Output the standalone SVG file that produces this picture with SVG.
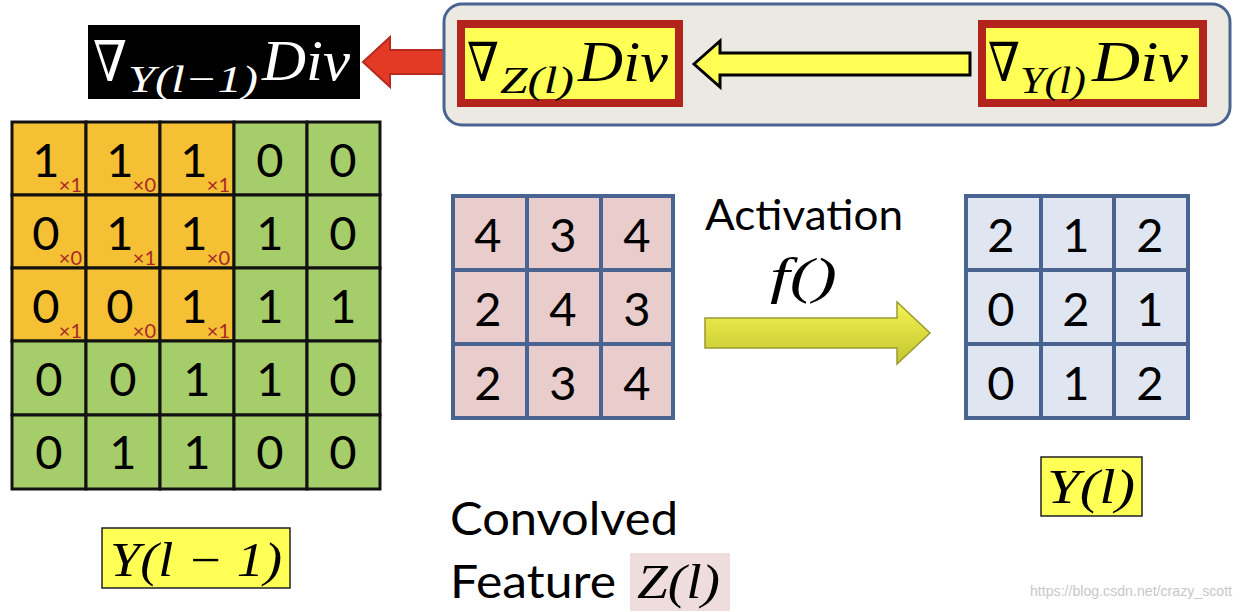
<svg xmlns="http://www.w3.org/2000/svg" width="1244" height="612" viewBox="0 0 1244 612">
<defs>
<linearGradient id="ag" x1="0" y1="0" x2="0" y2="1">
<stop offset="0" stop-color="#f4f455"/>
<stop offset="1" stop-color="#c4c42e"/>
</linearGradient>
<style>
.num{font-family:Lato,"Open Sans",sans-serif;font-size:47px;fill:#000;text-anchor:middle}
.sub{font-family:Lato,"Open Sans",sans-serif;font-size:20px;fill:#a8282a;text-anchor:end}
.math{font-family:"Liberation Serif","DejaVu Serif",serif;font-style:italic}
.nabla{font-family:"DejaVu Serif",serif;font-style:italic;font-weight:normal}
.lbl{font-family:Lato,"Open Sans",sans-serif;fill:#000}
.o{fill:#f5c033;stroke:#111;stroke-width:3}
.g{fill:#a5cd6a;stroke:#111;stroke-width:3}
.p{fill:#e9cdcd;stroke:#4a6491;stroke-width:4}
.b{fill:#dfe6f1;stroke:#4a6491;stroke-width:4}
.redbox{fill:#ffff55;stroke:#b3251c;stroke-width:8}
</style>
</defs>
<rect width="1244" height="612" fill="#fff"/>

<g id="connectors">
<polygon id="red-arrow" points="363,62 390,37 390,50 448,50 448,74 390,74 390,87" fill="#e33a26" stroke="#b52a1d" stroke-width="2"/>
<polygon id="act-arrow" points="705,318 897,318 897,302 930,333 897,364 897,348 705,348" fill="url(#ag)" stroke="#9a9a30" stroke-width="1.5"/>
</g>

<g id="panel">
<rect x="444" y="4" width="786" height="121" rx="18" fill="#ece9e3" stroke="#4a6491" stroke-width="3"/>
</g>
<g id="panel-arrow">
<polygon points="694,64 720,41 720,53 970,53 970,75 720,75 720,87" fill="#ffff55" stroke="#000" stroke-width="3"/>
</g>

<g id="grad-yl1">
<rect x="88" y="25" width="272" height="74" fill="#000"/>
<text class="nabla" x="93" y="81" font-size="56" fill="#fff" textLength="34" lengthAdjust="spacingAndGlyphs">∇</text>
<text class="math" fill="#fff"><tspan x="128" y="92" font-size="38" textLength="130" lengthAdjust="spacingAndGlyphs">Y(l−1)</tspan><tspan x="262" y="80" font-size="58" textLength="88" lengthAdjust="spacingAndGlyphs">Div</tspan></text>
</g>

<g id="grad-zl">
<rect class="redbox" x="461" y="24" width="218" height="79"/>
<text class="nabla" x="467" y="81" font-size="54" fill="#000" textLength="32" lengthAdjust="spacingAndGlyphs">∇</text>
<text class="math" fill="#000"><tspan x="500" y="93" font-size="38" textLength="74" lengthAdjust="spacingAndGlyphs">Z(l)</tspan><tspan x="578" y="81" font-size="58" textLength="90" lengthAdjust="spacingAndGlyphs">Div</tspan></text>
</g>

<g id="grad-yl">
<rect class="redbox" x="982" y="24" width="221" height="79"/>
<text class="nabla" x="988" y="81" font-size="54" fill="#000" textLength="32" lengthAdjust="spacingAndGlyphs">∇</text>
<text class="math" fill="#000"><tspan x="1020" y="93" font-size="38" textLength="66" lengthAdjust="spacingAndGlyphs">Y(l)</tspan><tspan x="1092" y="81" font-size="58" textLength="96" lengthAdjust="spacingAndGlyphs">Div</tspan></text>
</g>

<g id="input-grid">
<rect class="o" x="12" y="122" width="74" height="73"/>
<rect class="o" x="86" y="122" width="74" height="73"/>
<rect class="o" x="160" y="122" width="74" height="73"/>
<rect class="g" x="234" y="122" width="73" height="73"/>
<rect class="g" x="307" y="122" width="73" height="73"/>
<rect class="o" x="12" y="195" width="74" height="73"/>
<rect class="o" x="86" y="195" width="74" height="73"/>
<rect class="o" x="160" y="195" width="74" height="73"/>
<rect class="g" x="234" y="195" width="73" height="73"/>
<rect class="g" x="307" y="195" width="73" height="73"/>
<rect class="o" x="12" y="268" width="74" height="73"/>
<rect class="o" x="86" y="268" width="74" height="73"/>
<rect class="o" x="160" y="268" width="74" height="73"/>
<rect class="g" x="234" y="268" width="73" height="73"/>
<rect class="g" x="307" y="268" width="73" height="73"/>
<rect class="g" x="12" y="341" width="74" height="74"/>
<rect class="g" x="86" y="341" width="74" height="74"/>
<rect class="g" x="160" y="341" width="74" height="74"/>
<rect class="g" x="234" y="341" width="73" height="74"/>
<rect class="g" x="307" y="341" width="73" height="74"/>
<rect class="g" x="12" y="415" width="74" height="74"/>
<rect class="g" x="86" y="415" width="74" height="74"/>
<rect class="g" x="160" y="415" width="74" height="74"/>
<rect class="g" x="234" y="415" width="73" height="74"/>
<rect class="g" x="307" y="415" width="73" height="74"/>
<text class="num" x="46" y="177">1</text><text class="sub" x="82" y="192">×1</text>
<text class="num" x="120" y="177">1</text><text class="sub" x="156" y="192">×0</text>
<text class="num" x="194" y="177">1</text><text class="sub" x="230" y="192">×1</text>
<text class="num" x="270" y="177">0</text>
<text class="num" x="343" y="177">0</text>
<text class="num" x="46" y="250">0</text><text class="sub" x="82" y="265">×0</text>
<text class="num" x="120" y="250">1</text><text class="sub" x="156" y="265">×1</text>
<text class="num" x="194" y="250">1</text><text class="sub" x="230" y="265">×0</text>
<text class="num" x="270" y="250">1</text>
<text class="num" x="343" y="250">0</text>
<text class="num" x="46" y="323">0</text><text class="sub" x="82" y="338">×1</text>
<text class="num" x="120" y="323">0</text><text class="sub" x="156" y="338">×0</text>
<text class="num" x="194" y="323">1</text><text class="sub" x="230" y="338">×1</text>
<text class="num" x="270" y="323">1</text>
<text class="num" x="343" y="323">1</text>
<text class="num" x="49" y="396">0</text>
<text class="num" x="123" y="396">0</text>
<text class="num" x="197" y="396">1</text>
<text class="num" x="270" y="396">1</text>
<text class="num" x="343" y="396">0</text>
<text class="num" x="49" y="469">0</text>
<text class="num" x="123" y="469">1</text>
<text class="num" x="197" y="469">1</text>
<text class="num" x="270" y="469">0</text>
<text class="num" x="343" y="469">0</text>
</g>

<g id="label-yl1">
<rect x="102" y="528" width="188" height="60" fill="#ffff55" stroke="#222" stroke-width="1.5"/>
<text class="math" x="110" y="576" font-size="48" fill="#000" textLength="172" lengthAdjust="spacingAndGlyphs">Y(l − 1)</text>
</g>

<g id="conv-grid">
<rect class="p" x="453" y="196" width="74" height="74"/>
<rect class="p" x="527" y="196" width="74" height="74"/>
<rect class="p" x="601" y="196" width="72" height="74"/>
<rect class="p" x="453" y="270" width="74" height="74"/>
<rect class="p" x="527" y="270" width="74" height="74"/>
<rect class="p" x="601" y="270" width="72" height="74"/>
<rect class="p" x="453" y="344" width="74" height="74"/>
<rect class="p" x="527" y="344" width="74" height="74"/>
<rect class="p" x="601" y="344" width="72" height="74"/>
<text class="num" x="488" y="252">4</text><text class="num" x="563" y="252">3</text><text class="num" x="637" y="252">4</text>
<text class="num" x="488" y="326">2</text><text class="num" x="563" y="326">4</text><text class="num" x="637" y="326">3</text>
<text class="num" x="488" y="400">2</text><text class="num" x="563" y="400">3</text><text class="num" x="637" y="400">4</text>
</g>

<g id="activation-label">
<text class="lbl" x="705" y="230" font-size="42" textLength="198" lengthAdjust="spacingAndGlyphs">Activation</text>
<text class="math" x="770" y="293" font-size="50" fill="#000" textLength="67" lengthAdjust="spacingAndGlyphs">f()</text>
</g>

<g id="out-grid">
<rect class="b" x="966" y="196" width="75" height="74"/>
<rect class="b" x="1041" y="196" width="73" height="74"/>
<rect class="b" x="1114" y="196" width="74" height="74"/>
<rect class="b" x="966" y="270" width="75" height="74"/>
<rect class="b" x="1041" y="270" width="73" height="74"/>
<rect class="b" x="1114" y="270" width="74" height="74"/>
<rect class="b" x="966" y="344" width="75" height="74"/>
<rect class="b" x="1041" y="344" width="73" height="74"/>
<rect class="b" x="1114" y="344" width="74" height="74"/>
<text class="num" x="1001" y="252">2</text><text class="num" x="1076" y="252">1</text><text class="num" x="1150" y="252">2</text>
<text class="num" x="1001" y="326">0</text><text class="num" x="1076" y="326">2</text><text class="num" x="1150" y="326">1</text>
<text class="num" x="1001" y="400">0</text><text class="num" x="1076" y="400">1</text><text class="num" x="1150" y="400">2</text>
</g>

<g id="label-yl">
<rect x="1041" y="457" width="101" height="59" fill="#ffff55" stroke="#222" stroke-width="1.5"/>
<text class="math" x="1047" y="503" font-size="48" fill="#000" textLength="88" lengthAdjust="spacingAndGlyphs">Y(l)</text>
</g>

<g id="conv-label">
<text class="lbl" x="450" y="535" font-size="46" textLength="228" lengthAdjust="spacingAndGlyphs">Convolved</text>
<text class="lbl" x="450" y="598" font-size="46" textLength="166" lengthAdjust="spacingAndGlyphs">Feature</text>
<rect x="630" y="553" width="100" height="58" fill="#efdcdc"/>
<text class="math" x="637" y="598" font-size="48" fill="#000" textLength="83" lengthAdjust="spacingAndGlyphs">Z(l)</text>
</g>

<text x="1030" y="596" font-family="'Liberation Sans Narrow','Liberation Sans',sans-serif" font-size="15" fill="#c8c8c8" textLength="202" lengthAdjust="spacingAndGlyphs">https://blog.csdn.net/crazy_scott</text>
</svg>
